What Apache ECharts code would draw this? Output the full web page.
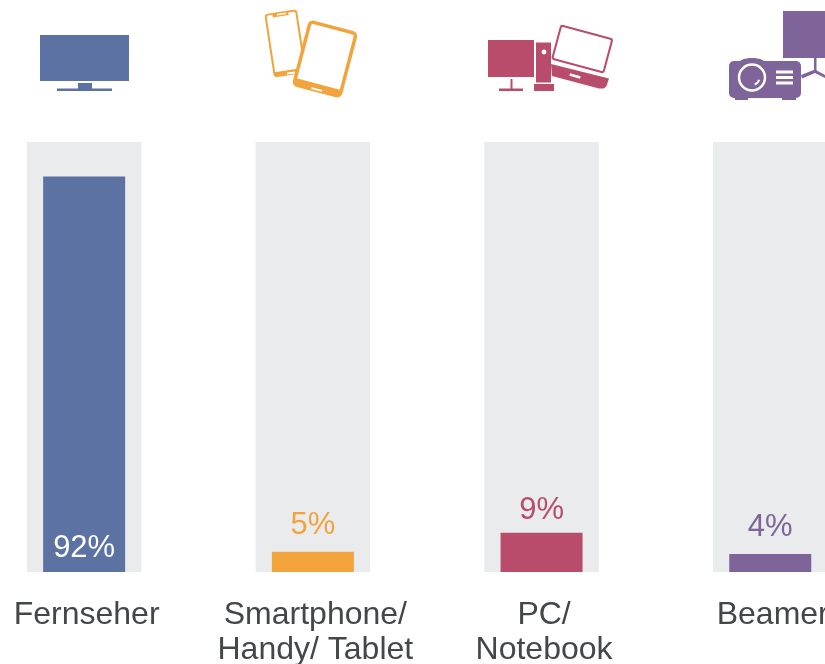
<!DOCTYPE html>
<html>
<head>
<meta charset="utf-8">
<title>Geräte</title>
<style>
  html, body { margin: 0; padding: 0; background: #fff; }
  #chart { width: 825px; height: 664px; }
</style>
<script src="https://cdn.jsdelivr.net/npm/echarts@6/dist/echarts.min.js"></script>
</head>
<body>
<div id="chart"></div>
<script>
const categories = ['Fernseher', 'Smartphone/\nHandy/ Tablet', 'PC/\nNotebook', 'Beamer']
const shares = [92, 4.7, 9.1, 4.2]
const shareLabels = ['92%', '5%', '9%', '4%']
const trackValues = [100, 100, 100, 100]

const BLUE = '#5b72a3'
const ORANGE = '#f3a33b'
const RED = '#b84c6a'
const PURPLE = '#7e6499'
const colors = [BLUE, ORANGE, RED, PURPLE]
const FONT = '"Liberation Sans", Arial, sans-serif'

const chart = echarts.init(document.getElementById('chart'))

const box = (x, y, width, height, fill, r) => ({
  type: 'rect', shape: { x, y, width, height, r: r || 0 }, style: { fill }, silent: true
})
// rotated outline, cx/cy is the centre, deg is counter clockwise
const device = (cx, cy, width, height, deg, stroke, lineWidth, r) => ({
  type: 'rect',
  x: cx, y: cy, rotation: deg * Math.PI / 180,
  shape: { x: -width / 2, y: -height / 2, width, height, r },
  style: { fill: '#fff', stroke, lineWidth }, silent: true
})
const tilted = (cx, cy, width, height, deg, fill) => ({
  type: 'rect',
  x: cx, y: cy, rotation: deg * Math.PI / 180,
  shape: { x: -width / 2, y: -height / 2, width, height },
  style: { fill }, silent: true
})
const poly = (points, fill) => ({ type: 'polygon', shape: { points }, style: { fill }, silent: true })

const icons = [
  // TV
  box(40, 35, 89, 46, BLUE),
  box(78, 83, 14, 6, BLUE),
  box(57, 88.5, 55, 2.5, BLUE),

  // phone + tablet
  device(285.4, 43.3, 31, 62, 8.7, ORANGE, 2, 2.5),
  tilted(280.5, 14.5, 16, 3.5, 8.7, ORANGE),
  tilted(281.5, 14, 9, 1.5, 8.7, '#fff'),
  tilted(289.5, 72, 30, 4, 8.7, ORANGE),
  tilted(291, 73, 8, 2, 8.7, '#fff'),
  device(325, 59, 47.5, 65, -14.7, ORANGE, 3.5, 3.5),
  tilted(317.5, 86.5, 45, 5, -14.7, ORANGE),
  tilted(316.7, 89.5, 11, 2, -14.7, '#fff'),

  // desktop + laptop
  box(488, 40, 46, 37, RED),
  box(510.5, 79, 2, 10, RED),
  box(499, 88.5, 24, 2.5, RED),
  box(536, 42.5, 15, 40, RED),
  { type: 'circle', shape: { cx: 544, cy: 52, r: 2.4 }, style: { fill: '#fff' }, silent: true },
  box(534, 84, 20, 7, RED),
  device(582.3, 49, 53, 34.5, -15, RED, 2, 2),
  poly([[551, 64], [609, 78.5], [606.5, 86], [604, 88.5], [599, 88.5], [552, 76]], RED),
  tilted(575, 76, 11, 2.5, -15, '#fff'),

  // beamer + screen
  box(783, 11, 50, 47, PURPLE),
  box(814, 58, 2.5, 14, PURPLE),
  poly([[801, 75], [815, 69.5], [827, 76], [826, 78.5], [815, 73], [802, 78.5]], PURPLE),
  { type: 'ellipse', shape: { cx: 752, cy: 63, rx: 13, ry: 5 }, style: { fill: PURPLE }, silent: true },
  box(729, 61, 72, 37, PURPLE, 5),
  box(735, 96, 13, 4, PURPLE),
  box(782, 96, 14, 4, PURPLE),
  { type: 'circle', shape: { cx: 752, cy: 77.5, r: 13 }, style: { fill: PURPLE, stroke: '#fff', lineWidth: 2.5 }, silent: true },
  { type: 'arc', shape: { cx: 752, cy: 77.5, r: 7.5, startAngle: 0.3, endAngle: 1.2 }, style: { stroke: '#fff', fill: null, lineWidth: 2 }, silent: true },
  box(776, 70.5, 17, 3, '#fff'),
  box(776, 76, 17, 3, '#fff'),
  box(776, 81.5, 17, 3, '#fff')
]

const labelGaps = [0, 11, 7, 11]

chart.setOption({
  backgroundColor: '#fff',
  animation: false,
  grid: { left: -30.2, top: 142, width: 914.8, height: 430, outerBoundsMode: 'none' },
  xAxis: [
    {
      type: 'category',
      data: categories,
      axisLine: { show: false },
      axisTick: { show: false },
      axisLabel: {
        interval: 0,
        margin: 26,
        hideOverlap: false,
        padding: [0, 0, 0, 5],
        fontFamily: FONT,
        fontSize: 32,
        lineHeight: 35,
        color: '#43474a'
      }
    },
    { type: 'category', data: categories, show: false, position: 'bottom' }
  ],
  yAxis: { type: 'value', min: 0, max: 100, show: false },
  series: [
    {
      name: 'track',
      type: 'bar',
      xAxisIndex: 1,
      data: trackValues,
      barWidth: 114.5,
      silent: true,
      z: 1,
      itemStyle: { color: '#eaebed' }
    },
    {
      name: 'share',
      type: 'bar',
      xAxisIndex: 0,
      barWidth: 82,
      z: 2,
      data: shares.map((value, i) => ({
        value,
        itemStyle: { color: colors[i] },
        label: {
          show: true,
          position: i === 0 ? 'insideBottom' : 'top',
          distance: i === 0 ? 8 : labelGaps[i],
          formatter: () => shareLabels[i],
          fontFamily: FONT,
          fontSize: 31,
          color: i === 0 ? '#fff' : colors[i]
        }
      }))
    }
  ],
  graphic: { elements: icons }
})
</script>
</body>
</html>
